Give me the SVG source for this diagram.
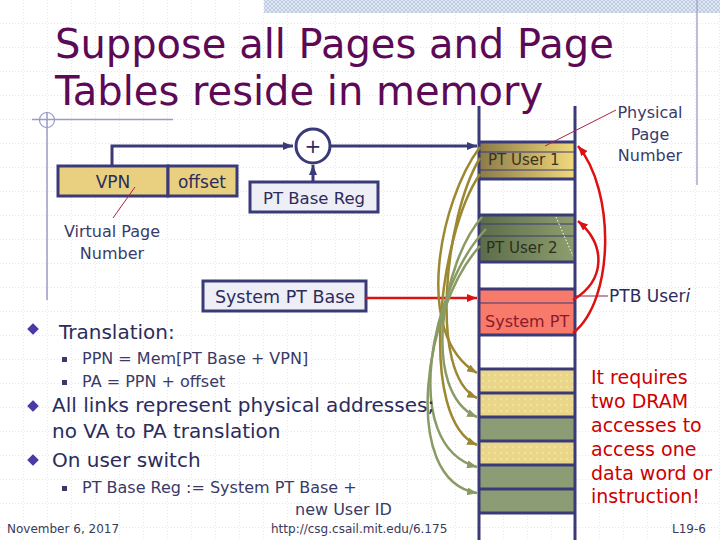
<svg xmlns="http://www.w3.org/2000/svg" width="720" height="540" viewBox="0 0 720 540">
<defs>
<pattern id="grid" width="24" height="24" patternUnits="userSpaceOnUse">
<path d="M24,0 V24 M0,24 H24" fill="none" stroke="#cfcfda" stroke-width="1" stroke-dasharray="1,2"/>
</pattern>
<pattern id="hatch" width="4" height="4" patternUnits="userSpaceOnUse">
<rect width="4" height="4" fill="#dfe6f2"/>
<path d="M0,4 L4,0 M0,0 L4,4" stroke="#b8c6e0" stroke-width="0.8"/>
</pattern>
<pattern id="dots" width="6" height="6" patternUnits="userSpaceOnUse">
<rect width="6" height="6" fill="#ead688"/>
<circle cx="3" cy="3" r="0.7" fill="#fff6d0"/>
</pattern>
<linearGradient id="gu1" x1="0" y1="0" x2="1" y2="0">
<stop offset="0" stop-color="#8a7a48"/>
<stop offset="1" stop-color="#f2da7a"/>
</linearGradient>
<linearGradient id="gu2" x1="0" y1="0" x2="1" y2="0">
<stop offset="0" stop-color="#5c6c48"/>
<stop offset="1" stop-color="#8e9e6e"/>
</linearGradient>
<marker id="aN" markerWidth="10" markerHeight="8" refX="10" refY="4" orient="auto" markerUnits="userSpaceOnUse">
<path d="M0,0 L10,4 L0,8 z" fill="#3a3a78"/>
</marker>
<marker id="aR" markerWidth="10" markerHeight="8" refX="10" refY="4" orient="auto" markerUnits="userSpaceOnUse">
<path d="M0,0 L10,4 L0,8 z" fill="#dd1111"/>
</marker>
<marker id="aY" markerWidth="10" markerHeight="8" refX="10" refY="4" orient="auto" markerUnits="userSpaceOnUse">
<path d="M0,0 L10,4 L0,8 z" fill="#9c8830"/>
</marker>
<marker id="aG" markerWidth="10" markerHeight="8" refX="10" refY="4" orient="auto" markerUnits="userSpaceOnUse">
<path d="M0,0 L10,4 L0,8 z" fill="#8a9a64"/>
</marker>
</defs>
<style>
.t{font-family:"DejaVu Sans","Liberation Sans",sans-serif;}
.title{font-size:40px;fill:#5c0a55;}
.body{font-size:20px;fill:#2c2c5c;}
.sub{font-size:16px;fill:#3a3a66;}
.lbl{font-size:16px;fill:#3a3a6a;}
.box{stroke:#3a3a78;stroke-width:3;}
.nav{stroke:#3a3a78;stroke-width:3;fill:none;}
.sep{stroke:#3a3a78;stroke-width:3;}
.thin{stroke:#3a3a78;stroke-width:1.2;}
.red{font-size:19px;fill:#cc0000;}
.foot{font-size:12px;fill:#3a3a5a;}
.yc{fill:none;stroke:#9c8830;stroke-width:2.5;}
.gc{fill:none;stroke:#8a9a64;stroke-width:2.5;}
.rc{fill:none;stroke:#dd1111;stroke-width:2.5;}
.dia{fill:#4b3aa6;stroke:#c8bce8;stroke-width:1;}
.sq{fill:#3a3a66;}
</style>
<rect width="720" height="540" fill="#ffffff"/>
<rect width="720" height="540" fill="url(#grid)"/>
<g id="decor">
<rect x="264" y="0" width="456" height="13" fill="url(#hatch)"/>
<line x1="697" y1="0" x2="697" y2="185" stroke="#a8a8cc" stroke-width="1.5"/>
<line x1="32" y1="119.5" x2="173" y2="119.5" stroke="#9a9ac4" stroke-width="1.5"/>
<line x1="47" y1="112" x2="47" y2="300" stroke="#9a9ac4" stroke-width="1.5"/>
<circle cx="47" cy="120" r="7.5" fill="none" stroke="#9a9ac4" stroke-width="1.2"/>
</g>
<g id="title" class="t">
<text class="title t" x="55" y="58">Suppose all Pages and Page</text>
<text class="title t" x="55" y="105">Tables reside in memory</text>
</g>
<g id="memory">
<rect x="479" y="142" width="96" height="37" fill="url(#gu1)"/>
<rect x="479" y="215" width="96" height="47" fill="url(#gu2)"/>
<rect x="479" y="289" width="96" height="46" fill="#f87a6a"/>
<rect x="479" y="369" width="96" height="24" fill="url(#dots)"/>
<rect x="479" y="393" width="96" height="24" fill="url(#dots)"/>
<rect x="479" y="417" width="96" height="24" fill="#8c9c74"/>
<rect x="479" y="441" width="96" height="24" fill="url(#dots)"/>
<rect x="479" y="465" width="96" height="24" fill="#8c9c74"/>
<rect x="479" y="489" width="96" height="24" fill="#8c9c74"/>
<line class="thin" x1="479" y1="152" x2="575" y2="152"/>
<line class="thin" x1="479" y1="170" x2="575" y2="170"/>
<line class="thin" x1="479" y1="224" x2="575" y2="224"/>
<line class="thin" x1="479" y1="236" x2="575" y2="236"/>
<line class="thin" x1="479" y1="303" x2="575" y2="303"/>
<line x1="556" y1="217" x2="573" y2="256" stroke="#ffffff" stroke-width="1" stroke-dasharray="1.5,2"/>
<g class="sep">
<line x1="479" y1="142" x2="575" y2="142"/>
<line x1="479" y1="179" x2="575" y2="179"/>
<line x1="479" y1="215" x2="575" y2="215"/>
<line x1="479" y1="262" x2="575" y2="262"/>
<line x1="479" y1="289" x2="575" y2="289"/>
<line x1="479" y1="335" x2="575" y2="335"/>
<line x1="479" y1="369" x2="575" y2="369"/>
<line x1="479" y1="393" x2="575" y2="393"/>
<line x1="479" y1="417" x2="575" y2="417"/>
<line x1="479" y1="441" x2="575" y2="441"/>
<line x1="479" y1="465" x2="575" y2="465"/>
<line x1="479" y1="489" x2="575" y2="489"/>
<line x1="479" y1="513" x2="575" y2="513"/>
<line x1="479" y1="106" x2="479" y2="540"/>
<line x1="575" y1="106" x2="575" y2="540"/>
</g>
<text class="t" x="488" y="165" font-size="15" fill="#3a3420">PT User 1</text>
<text class="t" x="486" y="253" font-size="15" fill="#2a3020">PT User 2</text>
<text class="t" x="485" y="327" font-size="16" fill="#8a1a2a">System PT</text>
</g>
<g id="vpn">
<rect class="box" x="58" y="166" width="110" height="30" fill="#e8d080"/>
<text class="t" x="113" y="188" font-size="17" fill="#2c2c5c" text-anchor="middle">VPN</text>
</g>
<g id="offset">
<rect class="box" x="168" y="166" width="69" height="30" fill="#e8d080"/>
<text class="t" x="202" y="188" font-size="17" fill="#2c2c5c" text-anchor="middle">offset</text>
</g>
<g id="adder">
<circle cx="313" cy="146" r="17" fill="#ffffff" stroke="#3a3a78" stroke-width="3"/>
<text class="t" x="313" y="153" font-size="20" fill="#2c2c5c" text-anchor="middle">+</text>
</g>
<g id="ptbasereg">
<rect class="box" x="250" y="182" width="128" height="30" fill="#eeeef6"/>
<text class="t" x="314" y="204" font-size="16.5" fill="#2c2c5c" text-anchor="middle">PT Base Reg</text>
</g>
<g id="systemptbase">
<rect class="box" x="203" y="281" width="163" height="30" fill="#eeeef6"/>
<text class="t" x="285" y="303" font-size="17.5" fill="#2c2c5c" text-anchor="middle">System PT Base</text>
</g>
<g id="labels" class="t">
<text class="lbl t" x="112" y="237" text-anchor="middle">Virtual Page</text>
<text class="lbl t" x="112" y="259" text-anchor="middle">Number</text>
<text class="lbl t" x="650" y="118" text-anchor="middle">Physical</text>
<text class="lbl t" x="650" y="140" text-anchor="middle">Page</text>
<text class="lbl t" x="650" y="161" text-anchor="middle">Number</text>
<text class="t" x="609" y="302" font-size="17" fill="#2c2c5c">PTB User<tspan font-style="italic">i</tspan></text>
</g>
<g id="connectors">
<path class="nav" d="M112,166 V146 H293" marker-end="url(#aN)"/>
<path class="nav" d="M330,146 H477" marker-end="url(#aN)"/>
<path class="nav" d="M313,182 V165" marker-end="url(#aN)"/>
<path d="M366,298 H477" stroke="#dd1111" stroke-width="2.5" fill="none" marker-end="url(#aR)"/>
<line x1="135" y1="187" x2="113" y2="218" stroke="#b02040" stroke-width="1"/>
<line x1="545" y1="146" x2="616" y2="110" stroke="#b02040" stroke-width="1"/>
<line x1="575" y1="296" x2="608" y2="296" stroke="#7a2a4a" stroke-width="1.2"/>
<path class="rc" d="M573,333 C615,300 615,190 578,146" marker-end="url(#aR)"/>
<path class="rc" d="M573,300 C606,280 606,245 578,221" marker-end="url(#aR)"/>
<path class="yc" d="M480,147 C440,200 412,335 477,373" marker-end="url(#aY)"/>
<path class="yc" d="M480,158 C445,215 428,375 477,398" marker-end="url(#aY)"/>
<path class="yc" d="M480,174 C438,235 418,420 477,445" marker-end="url(#aY)"/>
<path class="gc" d="M482,217 C442,262 420,392 477,417" marker-end="url(#aG)"/>
<path class="gc" d="M486,229 C432,285 398,445 477,467" marker-end="url(#aG)"/>
<path class="gc" d="M480,246 C425,305 398,480 477,493" marker-end="url(#aG)"/>
</g>
<g id="bullets" class="t">
<polygon class="dia" points="33,323 39,329 33,335 27,329"/>
<text class="body t" x="59" y="339">Translation:</text>
<rect class="sq" x="62" y="357" width="5" height="5"/>
<text class="sub t" x="82" y="364">PPN = Mem[PT Base + VPN]</text>
<rect class="sq" x="62" y="380" width="5" height="5"/>
<text class="sub t" x="82" y="387">PA = PPN + offset</text>
<polygon class="dia" points="33,400 39,406 33,412 27,406"/>
<text class="body t" x="52" y="412">All links represent physical addresses;</text>
<text class="body t" x="52" y="438">no VA to PA translation</text>
<polygon class="dia" points="33,454 39,460 33,466 27,460"/>
<text class="body t" x="52" y="467">On user switch</text>
<rect class="sq" x="62" y="486" width="5" height="5"/>
<text class="sub t" x="82" y="493">PT Base Reg := System PT Base +</text>
<text class="sub t" x="295" y="515">new User ID</text>
</g>
<g id="note" class="t">
<text class="red t" x="591" y="384">It requires</text>
<text class="red t" x="591" y="408">two DRAM</text>
<text class="red t" x="591" y="432">accesses to</text>
<text class="red t" x="591" y="456">access one</text>
<text class="red t" x="591" y="480">data word or</text>
<text class="red t" x="591" y="503">instruction!</text>
</g>
<g id="footer" class="t">
<text class="foot t" x="7" y="533">November 6, 2017</text>
<text class="foot t" x="271" y="533">http://csg.csail.mit.edu/6.175</text>
<text class="foot t" x="672" y="533" font-size="13">L19-6</text>
</g>
</svg>
